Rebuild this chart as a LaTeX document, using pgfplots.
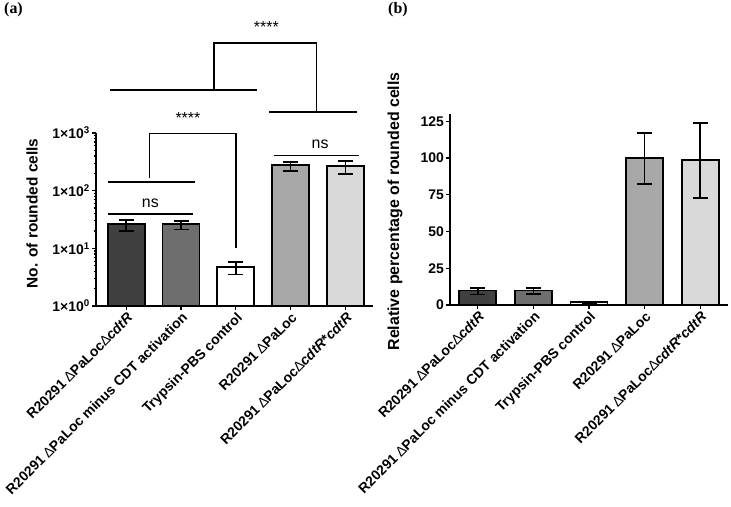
\documentclass[border=0pt]{standalone}
\usepackage{fontspec}
\setmainfont{Liberation Sans}
\newfontfamily\seriffont{Liberation Serif}
\usepackage{pgfplots}
\pgfplotsset{compat=1.18}
\definecolor{cA}{HTML}{404040}
\definecolor{cB}{HTML}{6E6E6E}
\definecolor{cC}{HTML}{FFFFFF}
\definecolor{cD}{HTML}{A8A8A8}
\definecolor{cE}{HTML}{D9D9D9}
\newcommand{\D}{{\mdseries ∆}}
\pgfplotsset{
  common/.style={
    scale only axis, anchor=south west,
    axis lines*=left,
    axis line style={line width=1.5bp, black},
    tick align=outside,
    every tick/.style={black, line width=1.2bp},
    major tick length=4bp, minor tick length=2.5bp,
    xtick={0,1,2,3,4},
    xticklabels={R20291 \D PaLoc\D\textit{cdtR}, R20291 \D PaLoc minus CDT activation, Trypsin-PBS control, R20291 \D PaLoc, R20291 \D PaLoc\D\textit{cdtR}*\textit{cdtR}},
    x tick label style={rotate=45, anchor=north east, font=\bfseries\fontsize{14}{16}\selectfont, inner sep=1bp},
    y tick label style={font=\bfseries\fontsize{14}{16}\selectfont, inner sep=2bp},
    /pgf/number format/assume math mode=true,
    ylabel style={font=\bfseries\fontsize{15.5}{17}\selectfont, anchor=center, rotate=0},
    ybar, bar width=37bp,
    clip=false,
    error bars/y dir=both, error bars/y explicit,
    error bars/error bar style={line width=1.5bp, black},
    error bars/error mark options={rotate=90, mark size=7.5bp, line width=1.5bp, black},
  },
  bb/.style={fill=#1, draw=black, line width=1.8bp, bar shift=0pt},
}
\begin{document}
\begin{tikzpicture}[x=1bp,y=1bp]
\path (0,0) rectangle (731,507);
\node[anchor=north west, inner sep=0pt, font=\seriffont\bfseries\fontsize{16}{18}\selectfont] at (4,505) {(a)};
\node[anchor=north west, inner sep=0pt, font=\seriffont\bfseries\fontsize{16}{18}\selectfont] at (388,505) {(b)};

\begin{axis}[common,
  at={(96bp,201bp)}, width=277bp, height=173bp,
  ymode=log, ymin=1, ymax=1000, xmin=-0.55, xmax=4.5,
  ytick={1,10,100,1000},
  yticklabels={1×10\textsuperscript{0},1×10\textsuperscript{1},1×10\textsuperscript{2},1×10\textsuperscript{3}},
  ylabel={No. of rounded cells},
  ylabel style={at={(axis description cs:-0.231,0.535)}},
]
\addplot[bb=cA] coordinates {(0,26.5) += (0,4.5) -= (0,6.5)};
\addplot[bb=cB] coordinates {(1,26.5) += (0,3.5) -= (0,5.5)};
\addplot[bb=cC] coordinates {(2,4.8) += (0,1.0) -= (0,1.3)};
\addplot[bb=cD] coordinates {(3,281) += (0,32) -= (0,60)};
\addplot[bb=cE] coordinates {(4,270) += (0,55) -= (0,75)};
% annotations
\draw[line width=1.3bp] (axis cs:-0.34,39.3) -- (axis cs:1.22,39.3);
\node[font=\fontsize{16}{18}\selectfont] at (axis cs:0.44,61) {ns};
\draw[line width=1.3bp] (axis cs:-0.34,141) -- (axis cs:1.25,141);
\draw[line width=1.3bp] (axis cs:0.43,165) -- (axis cs:0.43,968) -- (axis cs:2.005,968) -- (axis cs:2.005,10.1);
\node[anchor=base, font=\fontsize{16}{18}\selectfont] at (axis cs:1.126,1485) {****};
\draw[line width=1.3bp] (axis cs:2.70,403) -- (axis cs:4.24,403);
\node[font=\fontsize{16}{18}\selectfont] at (axis cs:3.535,625) {ns};
\draw[line width=1.3bp] (axis cs:-0.30,5534) -- (axis cs:2.39,5534);
\draw[line width=1.3bp] (axis cs:2.61,2301) -- (axis cs:4.20,2301);
\draw[line width=1.3bp] (axis cs:1.60,5534) -- (axis cs:1.60,36141) -- (axis cs:3.47,36141) -- (axis cs:3.47,2301);
\node[anchor=base, font=\fontsize{16}{18}\selectfont] at (axis cs:2.555,56100) {****};
\end{axis}

\begin{axis}[common,
  at={(450bp,202bp)}, width=278bp, height=191bp,
  ymin=0, ymax=130, xmin=-0.5, xmax=4.5,
  ytick={0,25,50,75,100,125},
  ylabel={Relative percentage of rounded cells},
  ylabel style={at={(axis description cs:-0.198,0.49)}, font=\bfseries\fontsize{16}{18}\selectfont},
]
\addplot[bb=cA] coordinates {(0,9.8) += (0,1.8) -= (0,2.8)};
\addplot[bb=cB] coordinates {(1,9.8) += (0,1.6) -= (0,2.4)};
\addplot[bb=cC] coordinates {(2,1.8) += (0,0.3) -= (0,0.3)};
\addplot[bb=cD] coordinates {(3,100.3) += (0,16.7) -= (0,17.8)};
\addplot[bb=cE] coordinates {(4,98.7) += (0,25.3) -= (0,25.9)};
\end{axis}
\end{tikzpicture}
\end{document}
